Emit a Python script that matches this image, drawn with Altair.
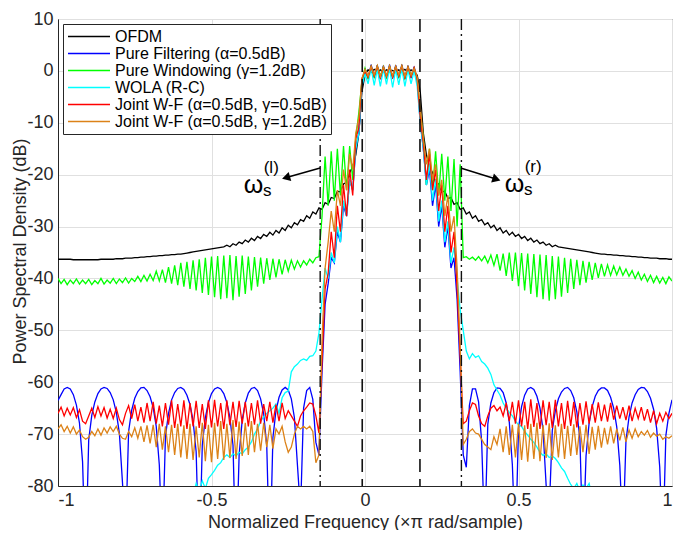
import altair as alt
import pandas as pd

# ---------------- data ----------------
FREQ = [
    -1.00, -0.99, -0.98, -0.97, -0.96, -0.95, -0.94, -0.93, -0.92, -0.91,
    -0.90, -0.89, -0.88, -0.87, -0.86, -0.85, -0.84, -0.83, -0.82, -0.81,
    -0.80, -0.79, -0.78, -0.77, -0.76, -0.75, -0.74, -0.73, -0.72, -0.71,
    -0.70, -0.69, -0.68, -0.67, -0.66, -0.65, -0.64, -0.63, -0.62, -0.61,
    -0.60, -0.59, -0.58, -0.57, -0.56, -0.55, -0.54, -0.53, -0.52, -0.51,
    -0.50, -0.49, -0.48, -0.47, -0.46, -0.45, -0.44, -0.43, -0.42, -0.41,
    -0.40, -0.39, -0.38, -0.37, -0.36, -0.35, -0.34, -0.33, -0.32, -0.31,
    -0.30, -0.29, -0.28, -0.27, -0.26, -0.25, -0.24, -0.23, -0.22, -0.21,
    -0.20, -0.19, -0.18, -0.17, -0.16, -0.15, -0.14, -0.13, -0.12, -0.11,
    -0.10, -0.09, -0.08, -0.07, -0.06, -0.05, -0.04, -0.03, -0.02, -0.01,
    0.00, 0.01, 0.02, 0.03, 0.04, 0.05, 0.06, 0.07, 0.08, 0.09,
    0.10, 0.11, 0.12, 0.13, 0.14, 0.15, 0.16, 0.17, 0.18, 0.19,
    0.20, 0.21, 0.22, 0.23, 0.24, 0.25, 0.26, 0.27, 0.28, 0.29,
    0.30, 0.31, 0.32, 0.33, 0.34, 0.35, 0.36, 0.37, 0.38, 0.39,
    0.40, 0.41, 0.42, 0.43, 0.44, 0.45, 0.46, 0.47, 0.48, 0.49,
    0.50, 0.51, 0.52, 0.53, 0.54, 0.55, 0.56, 0.57, 0.58, 0.59,
    0.60, 0.61, 0.62, 0.63, 0.64, 0.65, 0.66, 0.67, 0.68, 0.69,
    0.70, 0.71, 0.72, 0.73, 0.74, 0.75, 0.76, 0.77, 0.78, 0.79,
    0.80, 0.81, 0.82, 0.83, 0.84, 0.85, 0.86, 0.87, 0.88, 0.89,
    0.90, 0.91, 0.92, 0.93, 0.94, 0.95, 0.96, 0.97, 0.98, 0.99,
    1.00,
]

OFDM = [
    -36.3, -36.3, -36.3, -36.3, -36.3, -36.4, -36.4, -36.4, -36.4, -36.4,
    -36.4, -36.4, -36.4, -36.4, -36.3, -36.3, -36.3, -36.3, -36.3, -36.2,
    -36.2, -36.2, -36.1, -36.1, -36.1, -36.0, -36.0, -35.9, -35.9, -35.8,
    -35.8, -35.7, -35.7, -35.6, -35.6, -35.5, -35.5, -35.4, -35.4, -35.3,
    -35.3, -35.2, -35.1, -35.0, -34.9, -34.8, -34.7, -34.6, -34.5, -34.4,
    -34.3, -34.2, -34.1, -34.0, -33.9, -33.6, -33.9, -33.3, -33.6, -33.0,
    -33.3, -32.6, -33.0, -32.25, -32.7, -31.9, -32.3, -31.5, -31.9, -31.1,
    -31.65, -30.75, -31.25, -30.25, -30.75, -29.75, -30.25, -29.25, -29.65, -28.65,
    -29.0, -27.9, -28.4, -27.2, -27.6, -26.4, -26.7, -25.4, -25.7, -24.4,
    -24.6, -23.2, -23.3, -21.8, -21.5, -19.6, -18.5, -16.2, -12.0, -4.0,
    -0.8, 0.2, -0.3, 0.3, -0.2, 0.2, -0.2, 0.2, -0.1, 0.1,
    -0.2, 0.2, -0.2, 0.3, -0.3, 0.2, -0.3, -0.8, -4.0, -12.0,
    -16.2, -18.5, -19.6, -21.5, -21.8, -23.3, -23.2, -24.6, -24.4, -25.7,
    -25.4, -26.7, -26.4, -27.6, -27.2, -28.4, -27.9, -29.0, -28.65, -29.65,
    -29.25, -30.25, -29.75, -30.75, -30.25, -31.25, -30.75, -31.65, -31.1, -31.9,
    -31.5, -32.3, -31.9, -32.7, -32.25, -33.0, -32.6, -33.3, -33.0, -33.6,
    -33.3, -33.9, -33.6, -33.9, -34.0, -34.1, -34.2, -34.3, -34.4, -34.5,
    -34.6, -34.7, -34.8, -34.9, -35.0, -35.1, -35.2, -35.3, -35.3, -35.4,
    -35.4, -35.5, -35.5, -35.6, -35.6, -35.7, -35.7, -35.8, -35.8, -35.9,
    -35.9, -36.0, -36.0, -36.1, -36.1, -36.1, -36.2, -36.2, -36.2, -36.3,
    -36.3,
]

PURE_FILTERING = [
    -63.5, -62.4, -61.3, -61.0, -61.3, -62.4, -64.4, -67.9, -75.3, -95,
    -71.1, -66.4, -63.8, -62.2, -61.3, -61.0, -61.2, -62.0, -63.4, -65.8,
    -69.9, -79.3, -90, -69.5, -65.4, -63.1, -61.8, -61.1, -61.0, -61.6,
    -62.8, -64.9, -68.5, -75.9, -92, -70.4, -66.0, -63.4, -62.0, -61.2,
    -61.0, -61.4, -62.5, -64.3, -67.4, -73.4, -95, -72.1, -66.8, -63.9,
    -62.2, -61.3, -61.0, -61.3, -62.2, -63.9, -66.8, -72.1, -95, -74.0,
    -67.3, -64.0, -62.1, -61.2, -61.0, -61.6, -63.2, -66.1, -72.3, -95,
    -70.7, -65.5, -62.9, -61.5, -61.0, -61.5, -63.2, -66.8, -76.0, -85,
    -65.0, -61.6, -61.0, -63.3, -71.6, -74.0, -58, -45, -41, -36,
    -37, -31, -33, -26, -28, -21, -23, -15, -12, -3,
    0.5, -1.5, 1.2, -1.3, 1.1, -1.6, 1.0, -1.4, 1.2, -1.5,
    1.1, -1.3, 1.2, -1.6, 1.0, -1.4, 0.8, -1.8, -10, -15,
    -22, -19, -26, -22, -30, -26, -34, -30, -38, -36,
    -44, -58, -74, -76.4, -64.5, -61.3, -61.3, -63.8, -71.5, -90,
    -68.1, -64.0, -62.0, -61.1, -61.2, -62.0, -64.0, -67.7, -75.9, -92,
    -68.9, -64.7, -62.5, -61.3, -61.0, -61.4, -62.7, -65.0, -69.2, -79.8,
    -85, -69.3, -65.5, -63.2, -61.9, -61.2, -61.0, -61.6, -63.0, -65.7,
    -70.9, -92, -74.2, -67.9, -64.7, -62.7, -61.6, -61.1, -61.1, -61.6,
    -62.9, -65.0, -68.6, -76.0, -90, -71.3, -66.7, -64.0, -62.4, -61.4,
    -61.0, -61.1, -61.8, -63.1, -65.2, -68.9, -76.3, -92, -70.3, -66.0,
    -63.4,
]

PURE_WINDOWING = [
    -40.0, -41.0, -40.2, -41.2, -40.3, -41.0, -40.1, -41.1, -40.3, -41.0,
    -40.2, -41.2, -40.4, -41.0, -40.0, -41.1, -40.3, -40.9, -40.0, -41.0,
    -40.1, -40.8, -39.9, -40.9, -40.0, -40.6, -39.6, -40.6, -39.4, -40.5,
    -39.2, -40.4, -38.6, -40.5, -38.3, -40.8, -37.8, -41.0, -37.5, -41.3,
    -37.0, -41.6, -36.8, -42.0, -36.5, -42.3, -36.3, -42.8, -36.0, -43.2,
    -35.8, -43.6, -35.7, -44.0, -35.6, -43.8, -35.5, -44.2, -35.7, -43.5,
    -35.6, -43.0, -35.8, -42.3, -35.9, -41.6, -36.0, -41.0, -36.1, -40.3,
    -36.2, -39.8, -36.3, -39.2, -36.4, -38.6, -36.5, -38.2, -36.6, -37.8,
    -36.6, -37.4, -36.3, -37.0, -36.0, -35.8, -28, -16.5, -26, -15.5,
    -25, -15, -24, -14.5, -23, -14.5, -21, -13, -8, -2,
    0.5, -1.5, 0.8, -1.2, 0.9, -1.0, 0.8, -1.3, 0.9, -1.1,
    0.8, -1.2, 0.9, -1.4, 0.7, -1.0, 0.5, -1.5, -8, -13,
    -22, -15, -23, -15.5, -24, -16, -25, -16.5, -27, -17,
    -30, -18, -36.0, -35.8, -36.3, -35.9, -36.5, -35.8, -36.6, -35.7,
    -37.0, -35.5, -37.5, -35.3, -38.5, -35.2, -39.5, -35.0, -40.5, -35.0,
    -41.5, -35.1, -42.3, -35.2, -43.0, -35.3, -43.6, -35.4, -44.0, -35.5,
    -44.3, -35.7, -44.0, -35.8, -43.5, -36.0, -42.8, -36.2, -42.0, -36.4,
    -41.3, -36.6, -40.8, -36.8, -40.3, -37.0, -39.9, -37.2, -39.6, -37.4,
    -39.4, -37.6, -39.3, -37.8, -39.4, -38.2, -39.6, -38.5, -40.0, -38.8,
    -40.3, -39.2, -40.6, -39.4, -40.8, -39.6, -40.9, -39.8, -41.0, -39.7,
    -40.5,
]

WOLA = [
    -95, -95, -95, -95, -95, -95, -95, -95, -95, -95,
    -95, -95, -95, -95, -95, -95, -95, -95, -95, -95,
    -95, -95, -95, -95, -95, -95, -95, -95, -95, -95,
    -95, -95, -95, -95, -95, -95, -95, -95, -95, -95,
    -95, -95, -88, -80.5, -82, -79.5, -81, -79, -80.5, -78.5,
    -77.8, -77, -76, -75.5, -74.5, -74.0, -74.5, -73.8, -74.2, -73.5,
    -73.8, -73, -72.5, -71.5, -70, -69, -67.5, -66.7, -66, -65.5,
    -65, -64.2, -66, -63, -62, -61.7, -58, -57, -56.5, -55.8,
    -55.5, -55.8, -55.0, -54.9, -54.0, -50.5, -44, -38, -40, -35,
    -37, -30, -33, -25, -28, -21, -23, -15, -12, -3,
    -0.5, -2.5, 0.5, -2.8, 0.3, -3.0, 0.4, -2.6, 0.5, -3.2,
    0.3, -2.7, 0.4, -3.0, 0.2, -2.5, 0.0, -3.0, -10, -15,
    -22, -18, -25, -21, -29, -25, -33, -29, -37, -34,
    -40, -46, -50, -54, -55.5, -54.5, -55.2, -54.9, -56, -56.5,
    -57.3, -58.5, -60.5, -61.5, -62.5, -64, -65, -65.8, -66.5, -67.5,
    -68.2, -68.5, -69.5, -70.2, -71, -71.6, -72.5, -73.5, -74.1, -73.8,
    -74.5, -74.2, -74.7, -75.5, -76.5, -77.2, -78.5, -79.7, -80.5, -79.5,
    -81, -79.8, -80.5, -79.5, -82, -88, -95, -95, -95, -95,
    -95, -95, -95, -95, -95, -95, -95, -95, -95, -95,
    -95, -95, -95, -95, -95, -95, -95, -95, -95, -95,
    -95,
]

JOINT_05 = [
    -66.0, -64.8, -66.5, -65.0, -66.3, -64.9, -66.8, -65.3, -67.5, -68.0,
    -66.5, -65.0, -66.8, -64.7, -66.5, -64.9, -66.9, -65.2, -67.0, -65.0,
    -67.2, -68.2, -66.0, -64.5, -67.0, -64.3, -67.5, -64.8, -67.8, -64.0,
    -67.5, -63.8, -68.0, -64.5, -68.5, -64.0, -68.2, -63.5, -68.8, -64.2,
    -68.5, -63.5, -69.0, -64.0, -68.5, -63.6, -68.8, -64.2, -69.0, -63.5,
    -68.7, -63.4, -68.5, -64.0, -69.0, -63.5, -68.3, -63.8, -68.6, -63.6,
    -68.0, -63.8, -68.5, -64.0, -68.2, -63.5, -68.0, -64.2, -67.5, -63.8,
    -67.8, -64.3, -67.5, -64.0, -67.0, -65.5, -66.5, -67.5, -68.5, -66.5,
    -65.5, -64.8, -64.0, -64.2, -66.5, -69.8, -56, -42, -39, -31,
    -36, -26, -31, -22, -28, -19, -24, -13, -11, -1.5,
    0.0, -1.2, 0.8, -1.0, 0.9, -1.3, 0.7, -1.1, 0.9, -1.2,
    0.8, -1.0, 0.9, -1.3, 0.7, -1.1, 0.6, -1.5, -9, -14,
    -21, -16, -23, -19, -27, -22, -31, -26, -35, -31,
    -42, -55, -68, -67.5, -65.5, -64.0, -64.3, -66.5, -68.0, -68.5,
    -66.5, -65.0, -64.5, -65.5, -64.8, -66.5, -64.0, -67.5, -63.8, -68.0,
    -63.5, -68.5, -63.8, -69.0, -63.3, -68.6, -64.0, -69.0, -63.5, -68.3,
    -63.8, -68.8, -63.4, -68.5, -64.0, -69.0, -63.6, -68.4, -63.8, -68.7,
    -64.0, -68.2, -63.7, -68.0, -64.2, -67.8, -63.9, -67.5, -64.3, -67.6,
    -64.0, -67.2, -64.5, -67.0, -64.8, -67.3, -64.5, -67.5, -65.0, -67.0,
    -64.8, -67.4, -65.2, -67.8, -65.5, -68.0, -66.0, -67.5, -65.8, -67.0,
    -66.0,
]

JOINT_12 = [
    -69.0, -68.2, -69.5, -68.5, -69.8, -68.6, -70.0, -69.2, -70.5, -71.0,
    -70.6, -69.5, -70.3, -69.0, -70.2, -68.8, -69.8, -68.6, -69.5, -68.5,
    -70.0, -70.8, -71.0, -69.5, -70.5, -68.8, -70.8, -68.5, -71.5, -68.3,
    -71.8, -68.2, -72.5, -68.0, -73.0, -68.5, -73.5, -68.2, -74.0, -68.0,
    -74.5, -68.3, -74.8, -68.0, -75.0, -68.5, -74.5, -67.8, -75.2, -68.2,
    -75.4, -67.8, -74.8, -67.5, -75.0, -68.0, -74.6, -67.3, -74.8, -67.6,
    -74.2, -67.8, -74.0, -67.5, -73.5, -68.0, -73.2, -67.8, -72.5, -68.2,
    -72.8, -69.0, -70.0, -68.5, -71.5, -73.5, -72.5, -70.0, -68.5, -69.0,
    -68.5, -69.0, -68.5, -69.5, -75.5, -74.0, -52, -38, -33, -27,
    -31, -23, -26, -19, -23, -16, -19, -12, -9, -1.5,
    0.3, -1.0, 0.9, -0.8, 1.0, -1.1, 0.8, -0.9, 1.0, -1.0,
    0.9, -0.8, 1.0, -1.1, 0.8, -0.9, 0.5, -1.2, -7, -13,
    -18, -15, -21, -18, -24, -21, -28, -24, -31, -28,
    -38, -53, -72, -71.0, -69.5, -69.0, -69.8, -70.0, -71.0, -72.0,
    -72.5, -73.0, -70.5, -72.0, -69.0, -73.5, -68.5, -74.0, -68.2, -74.5,
    -68.0, -75.0, -68.3, -75.3, -68.0, -74.8, -67.8, -75.2, -68.2, -74.6,
    -67.9, -75.0, -68.3, -74.5, -68.0, -74.8, -68.4, -74.2, -68.1, -74.0,
    -68.5, -73.5, -68.2, -73.8, -68.6, -73.0, -68.4, -72.6, -68.8, -72.0,
    -68.5, -71.8, -69.0, -71.2, -68.7, -71.5, -69.2, -70.8, -69.0, -70.5,
    -69.5, -70.2, -69.3, -70.6, -69.8, -70.4, -70.0, -71.0, -70.5, -70.8,
    -70.3,
]

SERIES = [
    "OFDM",
    "Pure Filtering (α=0.5dB)",
    "Pure Windowing (γ=1.2dB)",
    "WOLA (R-C)",
    "Joint W-F (α=0.5dB, γ=0.5dB)",
    "Joint W-F (α=0.5dB, γ=1.2dB)",
]
COLORS = ["#000000", "#0000ff", "#00ff00", "#00ffff", "#ff0000", "#dc8218"]
VALUES = [OFDM, PURE_FILTERING, PURE_WINDOWING, WOLA, JOINT_05, JOINT_12]

X_TICKS = [-1, -0.5, 0, 0.5, 1]
Y_TICKS = [-80, -70, -60, -50, -40, -30, -20, -10, 0, 10]

DASHED_LINES = [-0.009, 0.179]
DASHDOT_LINES = [-0.146, 0.314]

ARROW_X = [-0.146, 0.314]
ARROW_Y = [-18.7, -18.75]
ARROW_X2 = [-0.253, 0.424]
ARROW_Y2 = [-20.5, -20.8]
HEAD_ANGLE = [254, 107]

LABEL_TEXT = ["ω", "s", "(l)", "ω", "s", "(r)"]
LABEL_X = [-0.395, -0.332, -0.330, 0.455, 0.518, 0.520]
LABEL_Y = [-23.5, -24.2, -19.6, -23.3, -24.0, -19.4]
LABEL_SIZE = [25, 17, 17, 25, 17, 17]

FONT = "Liberation Sans"

# ---------------- tables ----------------
rows = []
for name, vals in zip(SERIES, VALUES):
    for f, v in zip(FREQ, vals):
        rows.append({"f": f, "psd": v, "series": name})
df = pd.DataFrame(rows)

xs = alt.Scale(domain=[-1, 1], nice=False, zero=False)
ys = alt.Scale(domain=[-80, 10], nice=False, zero=False)
cs = alt.Scale(domain=SERIES, range=COLORS)

legend = alt.Legend(
    title=None, orient="top-left", offset=5, padding=4,
    strokeColor="#262626", fillColor="white", cornerRadius=0,
    symbolType="stroke", symbolSize=1764, symbolStrokeWidth=1.5,
    labelFont=FONT, labelFontSize=16, labelColor="#000000",
    labelLimit=400, rowPadding=0, labelOffset=4, clipHeight=17,
)

X_TITLE = "Normalized Frequency (×π rad/sample)"
Y_TITLE = "Power Spectral Density (dB)"


def x_axis():
    return alt.Axis(values=X_TICKS, title=X_TITLE, labelExpr="'' + datum.value",
                    grid=True, titlePadding=4)


def y_axis():
    return alt.Axis(values=Y_TICKS, title=Y_TITLE, labelExpr="'' + datum.value",
                    grid=True, titleX=-38, titleY=232, titleAngle=270,
                    titleAlign="center", titleBaseline="middle")


base = alt.Chart(df)
layers = []
for name in SERIES:
    layers.append(
        base.transform_filter(alt.datum.series == name)
        .mark_line(strokeWidth=1.3, clip=True)
        .encode(
            x=alt.X("f:Q", scale=xs, axis=x_axis()),
            y=alt.Y("psd:Q", scale=ys, axis=y_axis()),
            color=alt.Color("series:N", scale=cs, legend=legend),
        )
    )

dashed = alt.Chart(pd.DataFrame({"f": DASHED_LINES})).mark_rule(
    color="#111111", strokeWidth=1.6, strokeDash=[13, 7]
).encode(x=alt.X("f:Q", scale=xs, axis=x_axis()))

dashdot = alt.Chart(pd.DataFrame({"f": DASHDOT_LINES})).mark_rule(
    color="#111111", strokeWidth=1.4, strokeDash=[11, 4, 2, 4]
).encode(x=alt.X("f:Q", scale=xs, axis=x_axis()))

arrow_df = pd.DataFrame({"f": ARROW_X, "psd": ARROW_Y, "f2": ARROW_X2,
                         "psd2": ARROW_Y2, "a": HEAD_ANGLE})
arrows = alt.Chart(arrow_df).mark_rule(color="#000000", strokeWidth=1.5).encode(
    x=alt.X("f:Q", scale=xs, axis=x_axis()), y=alt.Y("psd:Q", scale=ys, axis=y_axis()),
    x2="f2:Q", y2="psd2:Q")
heads = alt.Chart(arrow_df).mark_point(
    shape="triangle", filled=True, color="#000000", size=90, opacity=1
).encode(x=alt.X("f2:Q", scale=xs, axis=x_axis()),
         y=alt.Y("psd2:Q", scale=ys, axis=y_axis()),
         angle=alt.Angle("a:Q", scale=None))

lab_df = pd.DataFrame({"f": LABEL_X, "psd": LABEL_Y, "t": LABEL_TEXT, "s": LABEL_SIZE})
labels = alt.Chart(lab_df).mark_text(
    align="left", baseline="alphabetic", font=FONT, color="#000000"
).encode(x=alt.X("f:Q", scale=xs, axis=x_axis()),
         y=alt.Y("psd:Q", scale=ys, axis=y_axis()),
         text="t:N", size=alt.Size("s:Q", scale=None))

chart = alt.layer(*layers, dashed, dashdot, arrows, heads, labels).properties(
    width=614, height=467,
    padding={"left": 50, "top": 11, "right": 5, "bottom": 44},
    autosize=alt.AutoSizeParams(type="none"),
).configure_view(stroke="#262626", strokeWidth=1).configure_axis(
    labelFont=FONT, titleFont=FONT, labelFontSize=18, titleFontSize=18,
    titleFontWeight="normal", labelColor="#262626", titleColor="#262626",
    gridColor="#e0e0e0", gridWidth=1, domainColor="#262626", ticks=False,
    labelPadding=5,
)

chart.save("out.html", embed_options={"renderer": "svg", "actions": False})
